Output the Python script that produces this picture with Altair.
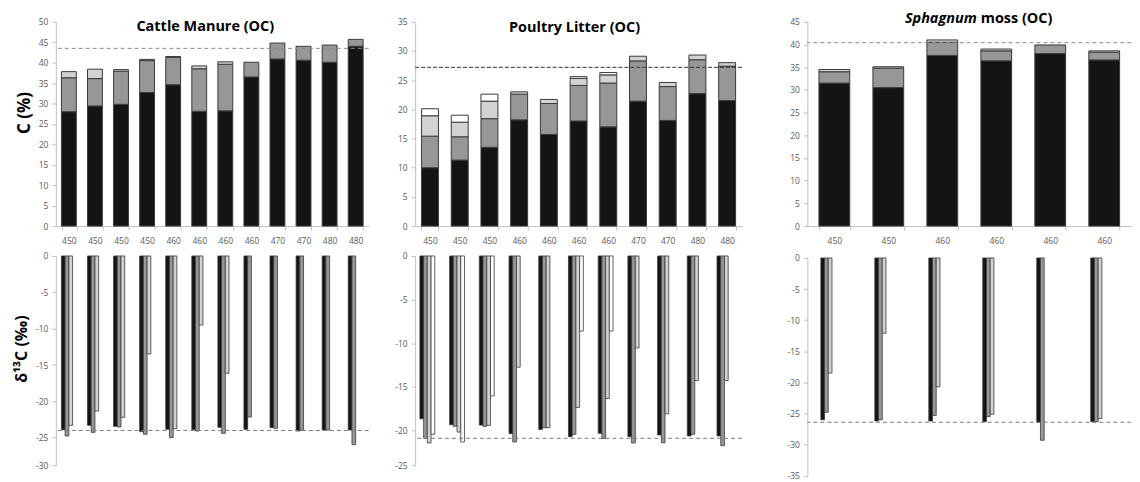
import altair as alt
import pandas as pd

FONT = "Open Sans"
SEG_COLORS = ["#141414", "#979797", "#d2d2d2", "#ffffff"]
EDGE = "#3a3a3a"
NBSP = "\u00a0"

# ---------------- Cattle Manure (OC) ----------------
cm_labels = ["450", "450", "450", "450", "460", "460", "460", "460", "470", "470", "480", "480"]
cm_c_black = [28.0, 29.4, 29.8, 32.7, 34.6, 28.1, 28.2, 36.5, 40.9, 40.6, 40.1, 44.0]
cm_c_grey = [8.3, 6.7, 8.1, 7.8, 6.7, 10.4, 11.4, 3.6, 3.9, 3.4, 4.2, 1.7]
cm_c_lgrey = [1.5, 2.3, 0.4, 0.3, 0.2, 0.7, 0.6, None, None, None, None, None]
cm_ref_c = 43.5
cm_d_black = [-23.9, -23.3, -23.44, -24.17, -23.85, -23.9, -23.57, -23.85, -23.62, -24.08, -23.94, -23.94]
cm_d_grey = [-24.76, -24.26, -23.53, -24.53, -24.99, -24.08, -24.4, -22.16, -23.71, -23.99, -23.94, -26.25]
cm_d_lgrey = [-23.3, -21.33, -22.2, -13.48, -23.76, -9.5, -16.13, None, None, None, None, None]
cm_ref_d = -24.0

# ---------------- Poultry Litter (OC) ----------------
pl_labels = ["450", "450", "450", "460", "460", "460", "460", "470", "470", "480", "480"]
pl_c_black = [10.0, 11.3, 13.5, 18.2, 15.7, 18.0, 17.0, 21.4, 18.1, 22.7, 21.5]
pl_c_grey = [5.4, 4.0, 4.9, 4.4, 5.3, 6.1, 7.5, 6.9, 5.8, 5.8, 5.9]
pl_c_lgrey = [3.5, 2.5, 3.0, 0.4, 0.7, 1.2, 1.4, 0.8, 0.7, 0.8, 0.6]
pl_c_white = [1.2, 1.2, 1.2, None, None, 0.3, 0.4, None, None, None, None]
pl_ref_c = 27.2
pl_d_black = [-18.67, -19.36, -19.4, -20.48, -19.89, -20.9, -20.42, -20.9, -20.66, -20.8, -20.8]
pl_d_grey = [-21.13, -19.54, -19.54, -21.65, -19.7, -20.56, -21.13, -21.79, -21.75, -20.56, -22.18]
pl_d_lgrey = [-21.79, -20.24, -19.43, -12.76, -19.7, -17.37, -16.34, -10.56, -18.1, -14.29, -14.29]
pl_d_white = [-20.56, -21.65, -16.05, None, None, -8.62, -8.62, None, None, None, None]
pl_ref_d = -21.13

# ---------------- Sphagnum moss (OC) ----------------
sm_labels = ["450", "450", "460", "460", "460", "460"]
sm_c_black = [31.5, 30.5, 37.6, 36.4, 38.0, 36.6]
sm_c_grey = [2.5, 4.3, 2.9, 2.2, 1.9, 1.7]
sm_c_lgrey = [0.5, 0.3, 0.5, 0.4, None, 0.3]
sm_ref_c = 40.4
sm_d_black = [-26.0, -26.2, -26.2, -26.3, -26.4, -26.3]
sm_d_grey = [-24.8, -26.0, -25.3, -25.5, -29.3, -26.3]
sm_d_lgrey = [-18.5, -12.1, -20.7, -25.1, None, -25.8]
sm_ref_d = -26.4

SER_DOMAIN = [0, 1, 2, 3]
TITLE_SIZE = 14.5


def long_df(series):
    rows = []
    for s, vals in enumerate(series):
        for i, v in enumerate(vals):
            if v is not None:
                rows.append({"idx": i, "ser": s, "v": v})
    return pd.DataFrame(rows)


def label_expr(labels):
    return "[" + ",".join("'%s'" % l for l in labels) + "][datum.value]"


def title_layer(parts, y):
    layers = []
    for text, x, align, style, op in parts:
        layers.append(
            alt.Chart(pd.DataFrame({"t": [text]}))
            .mark_text(font=FONT, fontSize=TITLE_SIZE, fontWeight="bold", fontStyle=style,
                       align=align, baseline="middle", color="#000000", opacity=op)
            .encode(text="t:N", x=alt.value(x), y=alt.value(y))
        )
    return layers


def color_enc():
    return alt.Color("ser:O", scale=alt.Scale(domain=SER_DOMAIN, range=SEG_COLORS), legend=None)


def top_chart(labels, series, ymax, width, ref, ref_color, ref_dash, titles,
              ytitle=None, tpad=0, tsize=17, ty=91):
    df = long_df(series)
    vals = list(range(0, ymax + 1, 5))
    yaxis = dict(values=vals, tickCount=len(vals) + 2, title=ytitle if ytitle else None,
                 labelExpr="'" + NBSP + "' + datum.label", labelOverlap=False)
    if ytitle:
        yaxis.update(titlePadding=tpad, titleFontSize=tsize, titleY=ty)
    bars = alt.Chart(df).mark_bar(stroke=EDGE, strokeWidth=1).encode(
        x=alt.X("idx:O",
                scale=alt.Scale(paddingInner=0.43, paddingOuter=0.215),
                axis=alt.Axis(title=None, labelExpr=label_expr(labels), labelAngle=0,
                              tickBand="extent", labelPadding=6)),
        y=alt.Y("v:Q", stack="zero",
                scale=alt.Scale(domain=[0, ymax], nice=False),
                axis=alt.Axis(**yaxis)),
        color=color_enc(),
        order=alt.Order("ser:Q", sort="ascending"),
    )
    rule = alt.Chart(pd.DataFrame({"r": [ref]})).mark_rule(
        color=ref_color, strokeDash=ref_dash, strokeWidth=1
    ).encode(y=alt.datum(ref))
    layers = [bars, rule]
    for parts, y in titles:
        layers += title_layer(parts, y)
    return alt.layer(*layers).properties(width=width, height=205)


def bottom_chart(labels, series, width, height, dom, rng, ticks, ref, pad_inner,
                 ytitle=None, tpad=0, tsize=16, ty=93):
    df = long_df(series)
    n = len(series)
    yaxis = dict(values=ticks, tickCount=len(ticks) + 2, title=ytitle if ytitle else None,
                 labelOverlap=False,
                 labelExpr="(datum.value < 0 ? '-' : '') + abs(datum.value)")
    if ytitle:
        yaxis.update(titlePadding=tpad, titleFontSize=tsize, titleY=ty)
    bars = alt.Chart(df).mark_bar(stroke=EDGE, strokeWidth=0.8).encode(
        x=alt.X("idx:O", scale=alt.Scale(paddingInner=pad_inner, paddingOuter=pad_inner / 2),
                axis=None),
        xOffset=alt.XOffset("ser:O", scale=alt.Scale(domain=list(range(n)), paddingInner=0,
                                                     paddingOuter=0)),
        y=alt.Y("v:Q", stack=None,
                scale=alt.Scale(domain=dom, range=rng, nice=False),
                axis=alt.Axis(**yaxis)),
        color=color_enc(),
    )
    rule = alt.Chart(pd.DataFrame({"r": [ref]})).mark_rule(
        color="#7a7a7a", strokeDash=[4, 3], strokeWidth=1
    ).encode(y=alt.datum(ref))
    return alt.layer(bars, rule).properties(width=width, height=height)


W1, W2, W3 = 314, 328, 325
S3_Y = -2.5  # vertical position of the Sphagnum title (plot-relative)

top1 = top_chart(cm_labels, [cm_c_black, cm_c_grey, cm_c_lgrey], 50, W1, cm_ref_c,
                 "#8a8a8a", [4, 3],
                 [([("Cattle Manure (OC)", 150, "center", "normal", 1)], 5),
                  ([("C", 150, "center", "normal", 0)], S3_Y)],
                 ytitle="C (%)", tpad=5)
bot1 = bottom_chart(cm_labels, [cm_d_black, cm_d_grey, cm_d_lgrey], W1, 210.4,
                    [-30, -25, 0], [210.4, 182.4, 0], list(range(-30, 1, 5)), cm_ref_d, 0.43,
                    ytitle="δ¹³C (‰)", tpad=6)

top2 = top_chart(pl_labels, [pl_c_black, pl_c_grey, pl_c_lgrey, pl_c_white], 35, W2, pl_ref_c,
                 "#333333", [4, 2],
                 [([("Poultry Litter (OC)", 160, "center", "normal", 1)], 6.5),
                  ([("P", 158, "center", "normal", 0)], S3_Y)])
bot2 = bottom_chart(pl_labels, [pl_d_black, pl_d_grey, pl_d_lgrey, pl_d_white], W2, 210.4,
                    [-25, -20, 0], [210.4, 175, 0], list(range(-25, 1, 5)), pl_ref_d, 0.32)

top3 = top_chart(sm_labels, [sm_c_black, sm_c_grey, sm_c_lgrey], 45, W3, sm_ref_c,
                 "#8a8a8a", [4, 3],
                 [([("Sphagnum", 170, "right", "italic", 1),
                    ("moss (OC)", 174, "left", "normal", 1)], S3_Y)])
bot3 = bottom_chart(sm_labels, [sm_d_black, sm_d_grey, sm_d_lgrey], W3, 218.6,
                    [-35, 0], [218.6, 0], list(range(-35, 1, 5)), sm_ref_d, 0.5)

col1 = alt.vconcat(top1, bot1, spacing=7)
col2 = alt.vconcat(top2, bot2, spacing=7)
col3 = alt.vconcat(top3, bot3, spacing=9)

chart = (
    alt.hconcat(col1, alt.hconcat(col2, col3, spacing=43.6), spacing=24.6)
    .properties(padding={"left": 5, "top": 2, "right": 0, "bottom": 0})
    .configure_view(stroke=None)
    .configure_axis(
        labelFont=FONT, labelFontSize=8.5, labelColor="#595959", labelOverlap=False,
        titleFont=FONT, titleFontSize=16, titleFontWeight="bold", titleColor="#000000",
        domainColor="#bfbfbf", tickColor="#bfbfbf", tickSize=4, labelPadding=4,
        grid=False,
    )
)

chart.save("out.html", embed_options={"renderer": "svg", "actions": False})
